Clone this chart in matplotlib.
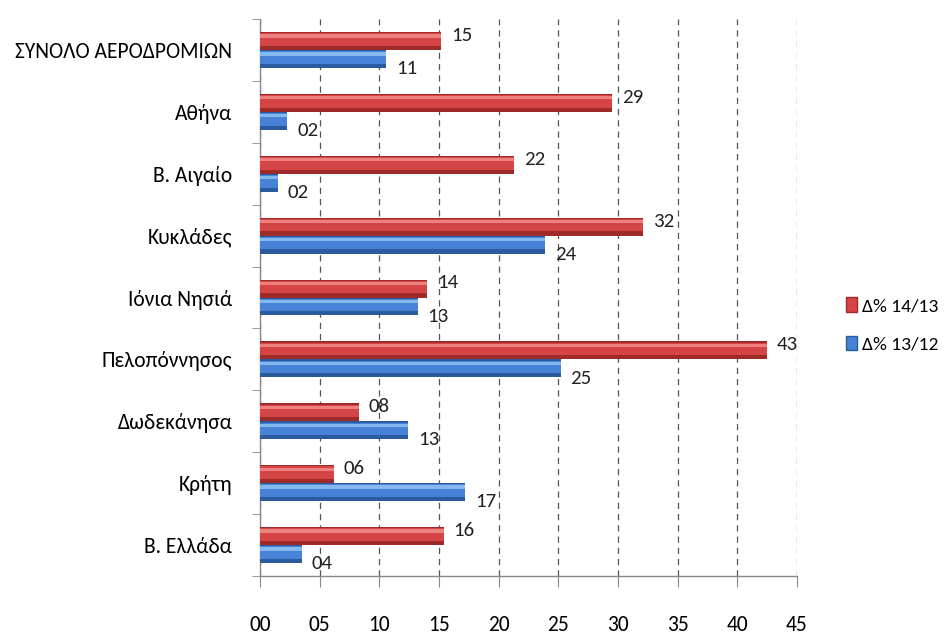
import numpy as np
import matplotlib
matplotlib.use("Agg")
import matplotlib.pyplot as plt
from matplotlib.patches import Patch

categories = ["ΣΥΝΟΛΟ ΑΕΡΟΔΡΟΜΙΩΝ", "Αθήνα", "Β. Αιγαίο", "Κυκλάδες", "Ιόνια Νησιά",
              "Πελοπόννησος", "Δωδεκάνησα", "Κρήτη", "Β. Ελλάδα"]
vals_1413 = [15.2, 29.5, 21.3, 32.1, 14.0, 42.5, 8.3, 6.2, 15.4]
vals_1312 = [10.6, 2.3, 1.5, 23.9, 13.2, 25.2, 12.4, 17.2, 3.5]
labels_1413 = ["15", "29", "22", "32", "14", "43", "08", "06", "16"]
labels_1312 = ["11", "02", "02", "24", "13", "25", "13", "17", "04"]
series_names = ["Δ% 14/13", "Δ% 13/12"]
xticks = [0, 5, 10, 15, 20, 25, 30, 35, 40, 45]
xticklabels = ["00", "05", "10", "15", "20", "25", "30", "35", "40", "45"]

plt.rcParams["font.family"] = ["Carlito", "DejaVu Sans"]

fig = plt.figure(figsize=(9.53, 6.37), dpi=100)
ax = fig.add_axes([260/953, 1-576/637, (797-260)/953, (576-19)/637])

n = len(categories)
y = np.arange(n)
h = 0.29

red_cols = ("#9E2A2A", "#D64545", "#EE8080")
blue_cols = ("#2B5A9E", "#4682D6", "#86B8F0")

def draw(yc, vals, cols):
    ax.barh(yc, vals, height=h, color=cols[0], zorder=3)
    ax.barh(yc - h*0.08, vals, height=h*0.7, color=cols[1], zorder=3)
    ax.barh(yc - h*0.28, vals, height=h*0.18, color=cols[2], zorder=3)

yr = y - h/2
yb = y + h/2
draw(yr, vals_1413, red_cols)
draw(yb, vals_1312, blue_cols)

for yy, v, t in zip(yr, vals_1413, labels_1413):
    ax.annotate(t, (v, yy), xytext=(7, 4), textcoords="offset points",
                ha="left", va="center", fontsize=15, color="#222222")
for yy, v, t in zip(yb, vals_1312, labels_1312):
    ax.annotate(t, (v, yy), xytext=(7, -7), textcoords="offset points",
                ha="left", va="center", fontsize=15, color="#222222")

ax.set_xlim(0, 45)
ax.set_ylim(n - 0.5, -0.5)
ax.set_xticks(xticks)
ax.set_xticklabels(xticklabels, fontsize=15.5)
ax.set_yticks(y)
ax.set_yticklabels(categories, fontsize=15.5)
ax.set_yticks(np.arange(n + 1) - 0.5, minor=True)
ax.tick_params(axis="y", which="major", length=0, pad=20)
ax.tick_params(axis="y", which="minor", length=6, color="#888888", direction="out")
ax.tick_params(axis="x", which="major", length=8, color="#888888", direction="out", pad=20)
ax.xaxis.grid(True, linestyle=(0, (5, 4)), color="#555555", linewidth=0.9, zorder=0)
ax.set_axisbelow(True)
for s in ["top", "right"]:
    ax.spines[s].set_visible(False)
for s in ["left", "bottom"]:
    ax.spines[s].set_color("#888888")
    ax.spines[s].set_linewidth(1.0)

handles = [Patch(facecolor=red_cols[1], edgecolor=red_cols[0]),
           Patch(facecolor=blue_cols[1], edgecolor=blue_cols[0])]
fig.legend(handles, series_names, loc="center left", bbox_to_anchor=(846/953, 1-325/637),
           frameon=False, fontsize=14, handlelength=0.55, handleheight=0.75,
           handletextpad=0.25, labelspacing=1.1, borderpad=0, borderaxespad=0)

fig.savefig("out.png", dpi=100)
